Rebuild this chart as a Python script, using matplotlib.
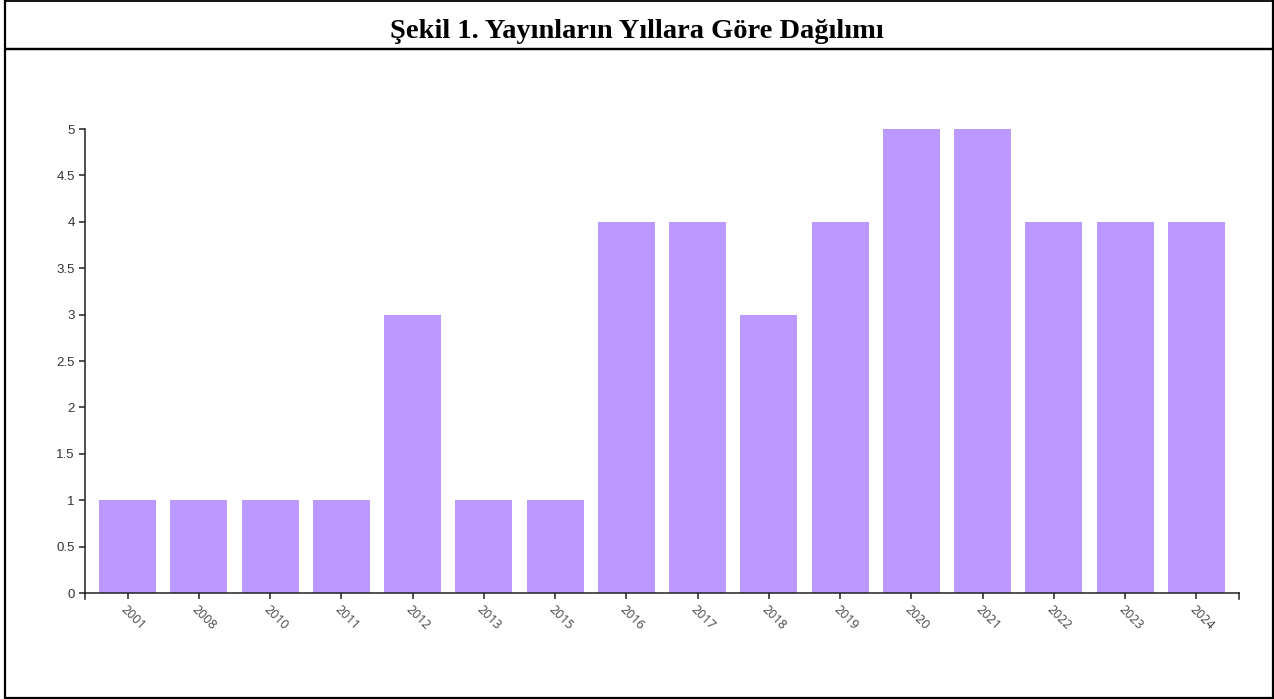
import matplotlib
matplotlib.use("Agg")
import matplotlib.pyplot as plt
from matplotlib.lines import Line2D

years = ["2001", "2008", "2010", "2011", "2012", "2013", "2015", "2016",
         "2017", "2018", "2019", "2020", "2021", "2022", "2023", "2024"]
counts = [1, 1, 1, 1, 3, 1, 1, 4, 4, 3, 4, 5, 5, 4, 4, 4]
yticks = [0, 0.5, 1, 1.5, 2, 2.5, 3, 3.5, 4, 4.5, 5]
ytick_labels = ["0", "0.5", "1", "1.5", "2", "2.5", "3", "3.5", "4", "4.5", "5"]
title = "Şekil 1. Yayınların Yıllara Göre Dağılımı"

W, H = 1274, 699
fig = plt.figure(figsize=(W / 100, H / 100), dpi=100)

ax = fig.add_axes([85 / W, 1 - 593 / H, (1239 - 85) / W, (593 - 129) / H])
x = list(range(len(years)))
ax.bar(x, counts, width=0.8, color="#bb99ff", align="center")
ax.set_xlim(-0.6, len(years) - 0.4)
ax.set_ylim(0, 5)
for s in ["top", "right"]:
    ax.spines[s].set_visible(False)
for s in ["left", "bottom"]:
    ax.spines[s].set_color("#222222")
    ax.spines[s].set_linewidth(1.1)
ax.set_yticks(yticks)
ax.set_yticklabels(ytick_labels, fontsize=9.5, color="#333333", family="Liberation Sans")
ax.set_xticks(x)
ax.set_xticklabels(years, fontsize=9, color="#444444", family="Open Sans",
                   rotation=-45, ha="left", va="top", rotation_mode="anchor")
ax.tick_params(axis="both", length=4.5, width=1.1, color="#222222", pad=3)
ax.tick_params(axis="x", pad=2.5)
# outer ticks at x-axis ends
for xe in ax.get_xlim():
    ax.plot([xe, xe], [0, -6 * 5 / 464], color="#222222", lw=1.1, clip_on=False)

# figure border and title separator
X0, X1 = 4, 1274

def hline(ypx, wpx):
    fig.add_artist(Line2D([X0 / W, X1 / W], [1 - ypx / H, 1 - ypx / H],
                          color="black", lw=wpx * 0.72, solid_capstyle="butt"))

def vline(xpx, wpx):
    fig.add_artist(Line2D([xpx / W, xpx / W], [0, 1], color="black",
                          lw=wpx * 0.72, solid_capstyle="butt"))

hline(0.9, 1.8)
hline(48.5, 2.4)
hline(698, 2.2)
vline(5, 2.2)
vline(1273, 2.2)

fig.text(0.5, 1 - 38 / H, title, ha="center", va="baseline", fontsize=20.5,
         fontweight="bold", family="Liberation Serif")

fig.savefig("out.png", dpi=100)
